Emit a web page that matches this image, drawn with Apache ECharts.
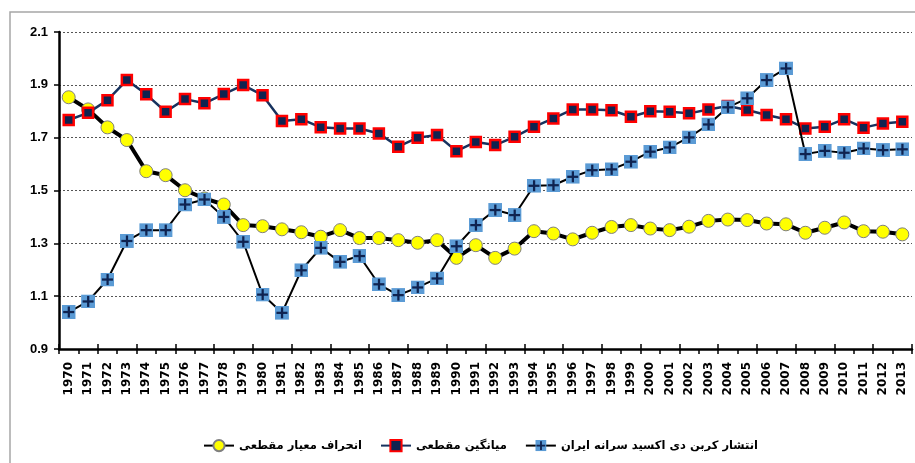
<!DOCTYPE html>
<html><head><meta charset="utf-8">
<script src="https://cdn.jsdelivr.net/npm/echarts@6/dist/echarts.min.js"></script>
<style>html,body{margin:0;padding:0;background:#fff}#c{width:915px;height:463px}</style>
</head><body><div id="c"></div>
<script>
const years = ['1970','1971','1972','1973','1974','1975','1976','1977','1978','1979','1980','1981','1982','1983','1984','1985','1986','1987','1988','1989','1990','1991','1992','1993','1994','1995','1996','1997','1998','1999','2000','2001','2002','2003','2004','2005','2006','2007','2008','2009','2010','2011','2012','2013'];
const stdDev = [1.853,1.807,1.739,1.691,1.573,1.558,1.501,1.47,1.447,1.369,1.365,1.353,1.342,1.325,1.35,1.32,1.32,1.312,1.302,1.312,1.245,1.293,1.245,1.28,1.346,1.337,1.315,1.34,1.362,1.369,1.356,1.35,1.363,1.385,1.39,1.388,1.375,1.372,1.34,1.359,1.379,1.346,1.344,1.334];
const meanVal = [1.767,1.794,1.842,1.918,1.864,1.798,1.846,1.83,1.865,1.899,1.861,1.763,1.77,1.739,1.735,1.735,1.716,1.666,1.70,1.71,1.649,1.684,1.672,1.703,1.741,1.773,1.807,1.807,1.804,1.779,1.80,1.798,1.792,1.807,1.82,1.805,1.786,1.77,1.735,1.741,1.77,1.738,1.754,1.76];
const iranCO2 = [1.04,1.08,1.163,1.309,1.35,1.35,1.447,1.466,1.40,1.306,1.106,1.037,1.198,1.283,1.23,1.252,1.145,1.104,1.133,1.167,1.289,1.369,1.426,1.407,1.518,1.52,1.552,1.577,1.58,1.609,1.647,1.663,1.701,1.75,1.815,1.849,1.918,1.962,1.638,1.65,1.643,1.659,1.653,1.656];
const yTicks = {min:0.9, max:2.1, interval:0.2};
const names = ['انحراف معیار مقطعی','میانگین مقطعی','انتشار کربن دی اکسید سرانه ایران'];

const plusSvg = '<svg xmlns="http://www.w3.org/2000/svg" width="28" height="28" viewBox="0 0 28 28"><rect x="0" y="0" width="28" height="28" fill="#5B9BD5"/><rect x="12" y="3" width="4.5" height="22" fill="#0F2350"/><rect x="3" y="11.8" width="22" height="4.5" fill="#0F2350"/></svg>';
const plusSym = 'image://data:image/svg+xml;charset=utf-8,' + encodeURIComponent(plusSvg);

const chart = echarts.init(document.getElementById('c'), null, {renderer:'canvas'});
chart.setOption({
  animation:false,
  backgroundColor:'#fff',
  graphic:[{type:'rect', shape:{x:10,y:12,width:930,height:480}, style:{fill:'none', stroke:'#A6A6A6', lineWidth:1.5}, z:-1}],
  grid:{left:59, right:3, top:32, bottom:114},
  legend:{
    left:198, top:434, itemWidth:30, itemHeight:14, itemGap:18,
    data:names,
    textStyle:{fontFamily:'DejaVu Sans', fontWeight:'bold', fontSize:11.5, color:'#000'}
  },
  xAxis:[{
    type:'category', data:years, boundaryGap:true,
    axisLine:{lineStyle:{color:'#000', width:2.5}},
    axisTick:{show:true, length:5, lineStyle:{color:'#000', width:1.5}},
    axisLabel:{rotate:90, interval:0, margin:13, fontFamily:'DejaVu Sans', fontWeight:'bold', fontSize:12, color:'#000'},
    splitLine:{show:false}
  },{
    type:'category', data:years, boundaryGap:true, position:'bottom',
    axisLine:{show:false},
    axisTick:{show:true, inside:true, length:5, lineStyle:{color:'#000', width:1.5}},
    axisLabel:{show:false}, splitLine:{show:false}
  }],
  yAxis:{
    type:'value', min:yTicks.min, max:yTicks.max, interval:yTicks.interval,
    axisLine:{show:true, lineStyle:{color:'#000', width:2.5}},
    axisTick:{show:true, length:5, lineStyle:{color:'#000', width:1.5}},
    axisLabel:{margin:11, formatter:v=>v.toFixed(1), fontFamily:'Liberation Sans', fontWeight:'bold', fontSize:13, color:'#000'},
    splitLine:{show:true, lineStyle:{color:'#555', width:1, type:[2,2]}}
  },
  series:[
    {name:names[0], type:'line', data:stdDev, symbol:'circle', symbolSize:13,
     lineStyle:{color:'#000', width:4}, itemStyle:{color:'#FFFF00', borderColor:'#7F7F7F', borderWidth:1}, z:2},
    {name:names[1], type:'line', data:meanVal, symbol:'rect', symbolSize:10,
     lineStyle:{color:'#17325E', width:2.5}, itemStyle:{color:'#0F2350', borderColor:'#FF0000', borderWidth:2.5}, z:3},
    {name:names[2], type:'line', data:iranCO2, symbol:plusSym, symbolSize:14,
     lineStyle:{color:'#000', width:2}, itemStyle:{color:'#5B9BD5'}, z:4}
  ]
});
</script></body></html>
